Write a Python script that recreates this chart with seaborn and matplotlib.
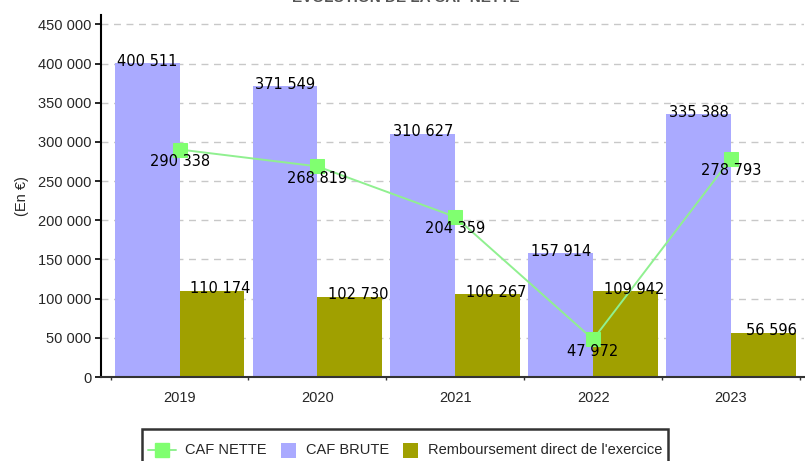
import numpy as np
import pandas as pd
import matplotlib
matplotlib.use("Agg")
import matplotlib.pyplot as plt
import seaborn as sns
from matplotlib.patches import Patch, Rectangle
from matplotlib.lines import Line2D
from matplotlib.legend_handler import HandlerPatch, HandlerLine2D
from matplotlib.ticker import FuncFormatter, FixedLocator

years = ["2019", "2020", "2021", "2022", "2023"]
caf_brute = [400511, 371549, 310627, 157914, 335388]
remboursement = [110174, 102730, 106267, 109942, 56596]
caf_nette = [290338, 268819, 204359, 47972, 278793]
series_names = ["CAF BRUTE", "Remboursement direct de l'exercice"]
line_name = "CAF NETTE"
title_text = "EVOLUTION DE LA CAF NETTE"
ylabel_text = "(En €)"

c_brute = "#aaaaff"
c_remb = "#a0a000"
c_line = "#90f090"
c_marker = "#80ff70"

sns.set_theme(style="white")
plt.rcParams["font.family"] = ["Liberation Sans", "DejaVu Sans"]

df = pd.DataFrame({
    "year": years * 2,
    "value": caf_brute + remboursement,
    "serie": [series_names[0]] * 5 + [series_names[1]] * 5,
})

fig = plt.figure(figsize=(8.05, 4.61), dpi=100)
ax = fig.add_axes([101 / 805, 1 - 377 / 461, 703 / 805, (377 - 15) / 461])

sns.barplot(data=df, x="year", y="value", hue="serie", order=years,
            hue_order=series_names, palette=[c_brute, c_remb],
            width=0.94, gap=0, dodge=True, errorbar=None, saturation=1,
            linewidth=0, ax=ax, legend=False, zorder=2)

xs = np.arange(len(years))
sns.lineplot(x=xs, y=caf_nette, ax=ax, color=c_line, linewidth=1.4,
             marker="s", markersize=9.5, markerfacecolor=c_marker,
             markeredgecolor=c_marker, zorder=4, legend=False)

ax.set_xlim(-0.57, 4.53)
ax.set_ylim(0, 462000)
ax.yaxis.set_major_locator(FixedLocator(np.arange(0, 450001, 50000)))
ax.yaxis.set_major_formatter(FuncFormatter(lambda v, p: f"{int(v):,}".replace(",", " ")))
ax.set_xlabel("")
ax.set_ylabel(ylabel_text, fontsize=10.5, labelpad=6)
ax.tick_params(axis="y", which="major", left=True, length=4, width=1.2,
               color="black", labelsize=10.5, pad=3)
ax.tick_params(axis="x", which="major", bottom=False, labelsize=10.5, pad=3.8)
ax.set_xticks(np.arange(-0.5, 5.0, 1.0), minor=True)
ax.tick_params(axis="x", which="minor", bottom=True, length=2, width=1, color="#333333")

ax.grid(axis="y", linestyle=(0, (5, 4)), color="#c8c8c8", linewidth=1, zorder=0)
ax.set_axisbelow(True)
for s in ["top", "right"]:
    ax.spines[s].set_visible(False)
ax.spines["left"].set_color("black")
ax.spines["left"].set_linewidth(1.5)
ax.spines["bottom"].set_color("#333333")
ax.spines["bottom"].set_linewidth(1.5)

def fmt(v):
    return f"{v:,}".replace(",", " ")

bw = 0.47
for i in range(len(years)):
    ax.annotate(fmt(caf_brute[i]), (i - bw / 2, caf_brute[i]), xytext=(0, -2),
                textcoords="offset points", ha="center", va="baseline",
                fontsize=10.5, family="DejaVu Sans", color="black", zorder=5)
    ax.annotate(fmt(remboursement[i]), (i + bw / 2, remboursement[i]), xytext=(6, -2),
                textcoords="offset points", ha="center", va="baseline",
                fontsize=10.5, family="DejaVu Sans", color="black", zorder=5)
    ax.annotate(fmt(caf_nette[i]), (i, caf_nette[i]), xytext=(0, -3),
                textcoords="offset points", ha="center", va="top",
                fontsize=10.5, family="DejaVu Sans", color="black", zorder=6)

fig.text(0.504, 1 - 2 / 461, title_text, ha="center", va="baseline",
         fontsize=11, fontweight="bold", color="#555555")

SQ = 10.8  # legend square size in points


def square_right(legend, orig_handle, xdescent, ydescent, width, height, fontsize):
    return Rectangle((-xdescent + width - SQ, -ydescent + (height - SQ) / 2), SQ, SQ)


class CenteredLine(HandlerLine2D):
    def create_artists(self, legend, orig_handle, xdescent, ydescent, width,
                       height, fontsize, trans):
        return super().create_artists(legend, orig_handle, xdescent, 2 * ydescent,
                                      width, height, fontsize, trans)


handles = [
    Line2D([0], [0], color=c_line, linewidth=1.4, marker="s", markersize=10,
           markerfacecolor=c_marker, markeredgecolor=c_marker),
    Patch(facecolor=c_brute, edgecolor="none"),
    Patch(facecolor=c_remb, edgecolor="none"),
]
leg = fig.legend(handles, [line_name] + series_names, loc="upper center",
                 bbox_to_anchor=(405 / 805, 1 - 429 / 461), ncol=3, frameon=True,
                 fancybox=False, edgecolor="black", fontsize=10.5,
                 handlelength=1.92, handleheight=2.8, handletextpad=0.65,
                 columnspacing=0.1, borderpad=0.41, borderaxespad=0,
                 handler_map={Patch: HandlerPatch(patch_func=square_right),
                              Line2D: CenteredLine()})
leg.get_frame().set_linewidth(1.8)

fig.savefig("out.png", dpi=100)
